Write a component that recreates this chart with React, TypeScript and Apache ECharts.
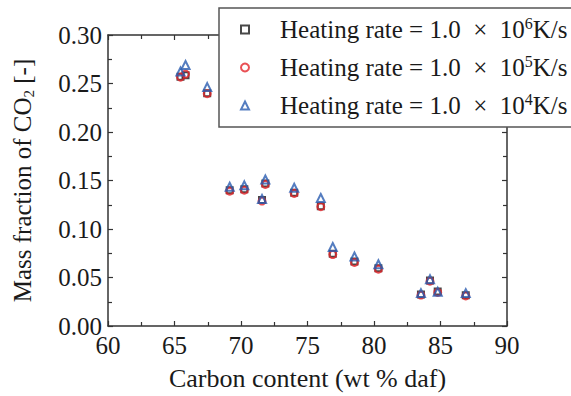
import React, { useEffect, useRef } from "react";
import * as echarts from "echarts";

const carbonContent = [65.45, 65.83, 67.46, 69.15, 70.25, 71.58, 71.83, 74.0, 76.0, 76.9, 78.53, 80.33, 83.53, 84.21, 84.79, 86.9];
const rate1e6 = [0.257, 0.2585, 0.24, 0.14, 0.141, 0.13, 0.147, 0.1375, 0.1235, 0.0745, 0.0665, 0.0595, 0.0325, 0.0468, 0.0355, 0.0318];
const rate1e5 = [0.2566, 0.2597, 0.2395, 0.139, 0.14, 0.1288, 0.146, 0.1367, 0.123, 0.0737, 0.0655, 0.0586, 0.0319, 0.0462, 0.0346, 0.0311];
const rate1e4 = [0.2624, 0.269, 0.2463, 0.1436, 0.145, 0.131, 0.151, 0.1425, 0.132, 0.0815, 0.0716, 0.0637, 0.0339, 0.0483, 0.0353, 0.0339];
const seriesNames = ["Heating rate = 1.0 × 10^6K/s", "Heating rate = 1.0 × 10^5K/s", "Heating rate = 1.0 × 10^4K/s"];
const exponents = ["6", "5", "4"];

const FONT = '"Liberation Serif", "Times New Roman", serif';
const AXIS_COLOR = "#333";
const TEXT = "#1a1a1a";

export default function App() {
  const ref = useRef<HTMLDivElement>(null);
  useEffect(() => {
    if (!ref.current) return;
    const chart = echarts.init(ref.current, undefined, { renderer: "svg" });
    const pts = (ys: number[]) => carbonContent.map((x, i) => [x, ys[i]]);
    const axisCommon = {
      axisLine: { show: true, onZero: false, lineStyle: { color: AXIS_COLOR, width: 1.5 } },
      axisTick: { show: true, inside: true, length: 5, lineStyle: { color: AXIS_COLOR, width: 1.2 } },
      minorTick: { show: true, splitNumber: 2, length: 4, lineStyle: { color: AXIS_COLOR, width: 1.2 } },
      splitLine: { show: false },
    };
    const mk = (name: string, data: number[], symbol: string, size: number, color: string, z: number) => ({
      type: "scatter",
      name,
      data: pts(data),
      symbol,
      symbolSize: size,
      z,
      itemStyle: { color: "rgba(255,255,255,0)", borderColor: color, borderWidth: 2 },
    });
    chart.setOption({
      animation: false,
      backgroundColor: "#fff",
      grid: { left: 107, right: 64, top: 35, bottom: 69 },
      xAxis: [
        {
          type: "value", min: 60, max: 90, interval: 5, position: "bottom",
          ...axisCommon,
          axisLabel: { color: TEXT, fontFamily: FONT, fontSize: 25, margin: 7 },
          name: "Carbon content (wt % daf)",
          nameLocation: "middle",
          nameGap: 39,
          nameTextStyle: { color: TEXT, fontFamily: FONT, fontSize: 26 },
        },
        {
          type: "value", min: 60, max: 90, interval: 5, position: "top",
          ...axisCommon,
          axisLabel: { show: false },
        },
      ],
      yAxis: [
        {
          type: "value", min: 0, max: 0.3, interval: 0.05, position: "left",
          ...axisCommon,
          axisLabel: { color: TEXT, fontFamily: FONT, fontSize: 25, margin: 6, formatter: (v: number) => v.toFixed(2) },
          name: "Mass fraction of CO{sub|2} [-]",
          nameLocation: "middle",
          nameGap: 72,
          nameRotate: 90,
          nameTextStyle: {
            color: TEXT, fontFamily: FONT, fontSize: 25, lineHeight: 28,
            rich: { sub: { fontFamily: FONT, fontSize: 15, lineHeight: 28, verticalAlign: "bottom", color: TEXT } },
          },
        },
        {
          type: "value", min: 0, max: 0.3, interval: 0.05, position: "right",
          ...axisCommon,
          axisLabel: { show: false },
        },
      ],
      legend: {
        orient: "vertical",
        left: 219,
        top: 8,
        backgroundColor: "#fff",
        borderColor: "#555",
        borderWidth: 1.5,
        borderRadius: 0,
        padding: [7, 6, 7, 21],
        itemGap: 9,
        itemWidth: 8,
        itemHeight: 8,
        data: seriesNames,
        formatter: (name: string) => {
          const i = seriesNames.indexOf(name);
          return "Heating rate = 1.0\u2002×\u200210{sup|" + exponents[i] + "}K/s";
        },
        textStyle: {
          color: TEXT, fontFamily: FONT, fontSize: 25, lineHeight: 29, padding: [0, 0, 0, 26],
          rich: { sup: { fontFamily: FONT, fontSize: 16, lineHeight: 29, verticalAlign: "top", color: TEXT } },
        },
      },
      series: [
        mk(seriesNames[0], rate1e6, "rect", 6, "#1a1a1a", 2),
        mk(seriesNames[1], rate1e5, "circle", 7, "#e3262b", 3),
        mk(seriesNames[2], rate1e4, "triangle", 8, "#2a5db0", 4),
      ],
    });
    return () => chart.dispose();
  }, []);
  return <div ref={ref} style={{ width: 571, height: 396, position: "absolute", left: 0, top: 0 }} />;
}
